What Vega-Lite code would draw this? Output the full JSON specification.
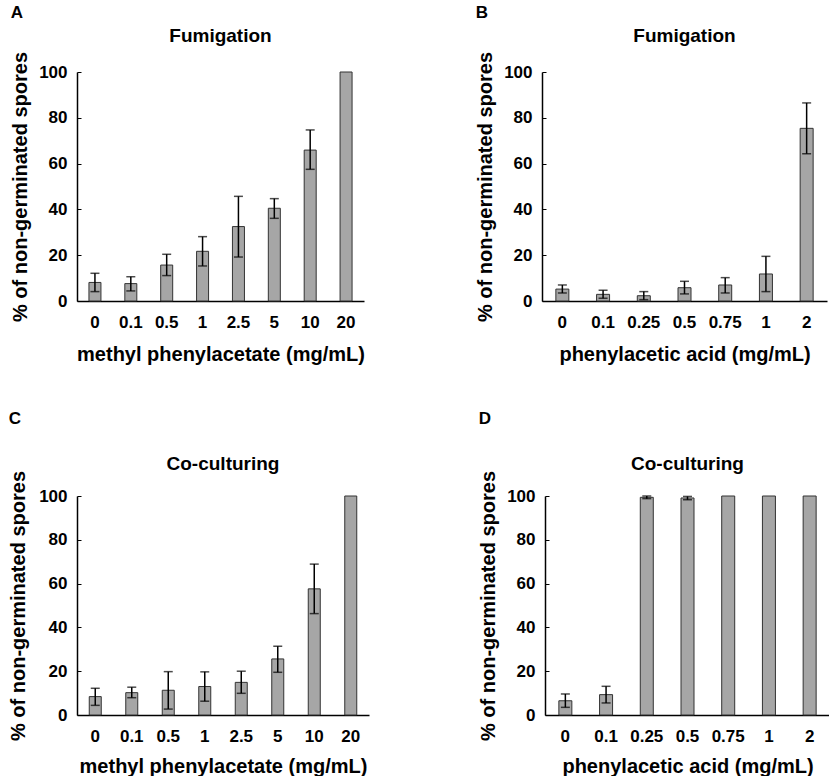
{
  "$schema": "https://vega.github.io/schema/vega-lite/v6.json",
  "background": "white",
  "padding": {"left": 8, "top": 4, "right": 2, "bottom": 0},
  "config": {
    "font": "Liberation Sans",
    "view": {"stroke": null},
    "title": {"font": "Liberation Sans", "fontWeight": "bold", "color": "black"},
    "axis": {
      "labelFont": "Liberation Sans",
      "labelFontWeight": "bold",
      "labelFontSize": 17,
      "labelColor": "black",
      "titleFont": "Liberation Sans",
      "titleFontWeight": "bold",
      "titleFontSize": 20,
      "titleColor": "black",
      "domainColor": "black",
      "domainWidth": 1.5,
      "tickColor": "black",
      "grid": false
    }
  },
  "datasets": {
    "A": [
      {"conc": "0", "mean": 8.1, "lo": 4.1, "hi": 12.1},
      {"conc": "0.1", "mean": 7.6, "lo": 4.4, "hi": 10.6},
      {"conc": "0.5", "mean": 15.7, "lo": 11.1, "hi": 20.4},
      {"conc": "1", "mean": 21.7, "lo": 15.3, "hi": 28.1},
      {"conc": "2.5", "mean": 32.5, "lo": 19.2, "hi": 45.7},
      {"conc": "5", "mean": 40.5, "lo": 36.1, "hi": 44.7},
      {"conc": "10", "mean": 65.9, "lo": 57.5, "hi": 74.7},
      {"conc": "20", "mean": 100, "lo": null, "hi": null}
    ],
    "B": [
      {"conc": "0", "mean": 5.2, "lo": 3.5, "hi": 7.0},
      {"conc": "0.1", "mean": 2.9, "lo": 1.2, "hi": 4.7},
      {"conc": "0.25", "mean": 2.3, "lo": 0.6, "hi": 4.1},
      {"conc": "0.5", "mean": 5.8, "lo": 3.1, "hi": 8.6},
      {"conc": "0.75", "mean": 7.0, "lo": 3.5, "hi": 10.2},
      {"conc": "1", "mean": 11.8, "lo": 4.1, "hi": 19.5},
      {"conc": "2", "mean": 75.4, "lo": 64.3, "hi": 86.5}
    ],
    "C": [
      {"conc": "0", "mean": 8.4, "lo": 4.4, "hi": 12.2},
      {"conc": "0.1", "mean": 10.2, "lo": 7.9, "hi": 12.7},
      {"conc": "0.5", "mean": 11.3, "lo": 2.7, "hi": 19.8},
      {"conc": "1", "mean": 13.0, "lo": 6.3, "hi": 19.7},
      {"conc": "2.5", "mean": 14.9, "lo": 9.9, "hi": 20.0},
      {"conc": "5", "mean": 25.6, "lo": 19.5, "hi": 31.4},
      {"conc": "10", "mean": 57.6, "lo": 46.3, "hi": 68.9},
      {"conc": "20", "mean": 100, "lo": null, "hi": null}
    ],
    "D": [
      {"conc": "0", "mean": 6.5, "lo": 3.5, "hi": 9.6},
      {"conc": "0.1", "mean": 9.3, "lo": 5.5, "hi": 13.1},
      {"conc": "0.25", "mean": 99.4, "lo": 98.8, "hi": 100},
      {"conc": "0.5", "mean": 99.1, "lo": 98.3, "hi": 99.8},
      {"conc": "0.75", "mean": 100, "lo": null, "hi": null},
      {"conc": "1", "mean": 100, "lo": null, "hi": null},
      {"conc": "2", "mean": 100, "lo": null, "hi": null}
    ]
  },
  "spacing": 46,
  "vconcat": [
    {
      "spacing": 110,
      "hconcat": [
        {
          "title": {"text": "A", "anchor": "start", "frame": "bounds", "fontSize": 17, "offset": 5},
          "vconcat": [
            {
              "title": {"text": "Fumigation", "fontSize": 19, "offset": 5},
              "data": {"name": "A"},
              "width": 287,
              "height": 229,
              "encoding": {
                "x": {
                  "field": "conc", "type": "nominal", "sort": null,
                  "scale": {"paddingInner": 0.5, "paddingOuter": 0.25},
                  "axis": {"title": "methyl phenylacetate (mg/mL)", "labelAngle": 0, "ticks": false, "labelPadding": 13, "titlePadding": 14}
                }
              },
              "layer": [
                {
                  "mark": {"type": "bar", "size": 12, "fill": "#a6a6a6", "stroke": "#333333", "strokeWidth": 1},
                  "encoding": {
                    "y": {
                      "field": "mean", "type": "quantitative",
                      "scale": {"domain": [0, 100], "nice": false},
                      "axis": {
                        "title": "% of non-germinated spores",
                        "values": [0, 10, 20, 30, 40, 50, 60, 70, 80, 90, 100],
                        "labelExpr": "datum.value % 20 == 0 ? datum.label : ''",
                        "tickSize": -4, "labelPadding": 14, "titlePadding": 8
                      }
                    }
                  }
                },
                {
                  "mark": {"type": "rule", "color": "black", "strokeWidth": 1.5},
                  "encoding": {"y": {"field": "lo", "type": "quantitative"}, "y2": {"field": "hi"}}
                },
                {
                  "mark": {"type": "tick", "color": "black", "size": 9, "thickness": 1.5},
                  "encoding": {"y": {"field": "hi", "type": "quantitative"}}
                },
                {
                  "mark": {"type": "tick", "color": "black", "size": 9, "thickness": 1.5},
                  "encoding": {"y": {"field": "lo", "type": "quantitative"}}
                }
              ]
            }
          ]
        },
        {
          "title": {"text": "B", "anchor": "start", "frame": "bounds", "fontSize": 17, "offset": 5},
          "vconcat": [
            {
              "title": {"text": "Fumigation", "fontSize": 19, "offset": 5},
              "data": {"name": "B"},
              "width": 285,
              "height": 229,
              "encoding": {
                "x": {
                  "field": "conc", "type": "nominal", "sort": null,
                  "scale": {"paddingInner": 0.5, "paddingOuter": 0.25},
                  "axis": {"title": "phenylacetic acid (mg/mL)", "labelAngle": 0, "ticks": false, "labelPadding": 13, "titlePadding": 14}
                }
              },
              "layer": [
                {
                  "mark": {"type": "bar", "size": 13, "fill": "#a6a6a6", "stroke": "#333333", "strokeWidth": 1},
                  "encoding": {
                    "y": {
                      "field": "mean", "type": "quantitative",
                      "scale": {"domain": [0, 100], "nice": false},
                      "axis": {
                        "title": "% of non-germinated spores",
                        "values": [0, 10, 20, 30, 40, 50, 60, 70, 80, 90, 100],
                        "labelExpr": "datum.value % 20 == 0 ? datum.label : ''",
                        "tickSize": -4, "labelPadding": 14, "titlePadding": 8
                      }
                    }
                  }
                },
                {
                  "mark": {"type": "rule", "color": "black", "strokeWidth": 1.5},
                  "encoding": {"y": {"field": "lo", "type": "quantitative"}, "y2": {"field": "hi"}}
                },
                {
                  "mark": {"type": "tick", "color": "black", "size": 9, "thickness": 1.5},
                  "encoding": {"y": {"field": "hi", "type": "quantitative"}}
                },
                {
                  "mark": {"type": "tick", "color": "black", "size": 9, "thickness": 1.5},
                  "encoding": {"y": {"field": "lo", "type": "quantitative"}}
                }
              ]
            }
          ]
        }
      ]
    },
    {
      "spacing": 108,
      "hconcat": [
        {
          "title": {"text": "C", "anchor": "start", "frame": "bounds", "fontSize": 17, "offset": 27},
          "vconcat": [
            {
              "title": {"text": "Co-culturing", "fontSize": 19, "offset": -4},
              "data": {"name": "C"},
              "width": 292,
              "height": 219,
              "encoding": {
                "x": {
                  "field": "conc", "type": "nominal", "sort": null,
                  "scale": {"paddingInner": 0.5, "paddingOuter": 0.25},
                  "axis": {"title": "methyl phenylacetate  (mg/mL)", "labelAngle": 0, "ticks": false, "labelPadding": 13, "titlePadding": 12}
                }
              },
              "layer": [
                {
                  "mark": {"type": "bar", "size": 12, "fill": "#a6a6a6", "stroke": "#333333", "strokeWidth": 1},
                  "encoding": {
                    "y": {
                      "field": "mean", "type": "quantitative",
                      "scale": {"domain": [0, 100], "nice": false},
                      "axis": {
                        "title": "% of non-germinated spores",
                        "values": [0, 10, 20, 30, 40, 50, 60, 70, 80, 90, 100],
                        "labelExpr": "datum.value % 20 == 0 ? datum.label : ''",
                        "tickSize": -4, "labelPadding": 14, "titlePadding": 10
                      }
                    }
                  }
                },
                {
                  "mark": {"type": "rule", "color": "black", "strokeWidth": 1.5},
                  "encoding": {"y": {"field": "lo", "type": "quantitative"}, "y2": {"field": "hi"}}
                },
                {
                  "mark": {"type": "tick", "color": "black", "size": 9, "thickness": 1.5},
                  "encoding": {"y": {"field": "hi", "type": "quantitative"}}
                },
                {
                  "mark": {"type": "tick", "color": "black", "size": 9, "thickness": 1.5},
                  "encoding": {"y": {"field": "lo", "type": "quantitative"}}
                }
              ]
            }
          ]
        },
        {
          "title": {"text": "D", "anchor": "start", "frame": "bounds", "fontSize": 17, "offset": 27},
          "vconcat": [
            {
              "title": {"text": "Co-culturing", "fontSize": 19, "offset": -4},
              "data": {"name": "D"},
              "width": 285,
              "height": 219,
              "encoding": {
                "x": {
                  "field": "conc", "type": "nominal", "sort": null,
                  "scale": {"paddingInner": 0.5, "paddingOuter": 0.25},
                  "axis": {"title": "phenylacetic acid (mg/mL)", "labelAngle": 0, "ticks": false, "labelPadding": 13, "titlePadding": 12}
                }
              },
              "layer": [
                {
                  "mark": {"type": "bar", "size": 13, "fill": "#a6a6a6", "stroke": "#333333", "strokeWidth": 1},
                  "encoding": {
                    "y": {
                      "field": "mean", "type": "quantitative",
                      "scale": {"domain": [0, 100], "nice": false},
                      "axis": {
                        "title": "% of non-germinated spores",
                        "values": [0, 10, 20, 30, 40, 50, 60, 70, 80, 90, 100],
                        "labelExpr": "datum.value % 20 == 0 ? datum.label : ''",
                        "tickSize": -4, "labelPadding": 14, "titlePadding": 8
                      }
                    }
                  }
                },
                {
                  "mark": {"type": "rule", "color": "black", "strokeWidth": 1.5},
                  "encoding": {"y": {"field": "lo", "type": "quantitative"}, "y2": {"field": "hi"}}
                },
                {
                  "mark": {"type": "tick", "color": "black", "size": 9, "thickness": 1.5},
                  "encoding": {"y": {"field": "hi", "type": "quantitative"}}
                },
                {
                  "mark": {"type": "tick", "color": "black", "size": 9, "thickness": 1.5},
                  "encoding": {"y": {"field": "lo", "type": "quantitative"}}
                }
              ]
            }
          ]
        }
      ]
    }
  ]
}
